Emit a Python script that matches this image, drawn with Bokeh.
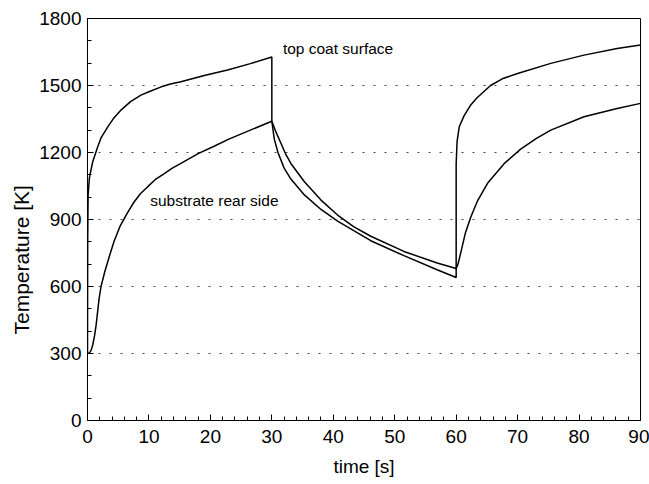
from bokeh.plotting import figure
from bokeh.models import Range1d, SingleIntervalTicker, Label, Title
from bokeh.embed import file_html
from bokeh.resources import INLINE

# top coat surface temperature [K] vs time [s]
top_t = [0, 0.03, 0.1, 0.3, 0.85, 1.65, 2.2, 3.3, 4.3, 5.45, 7, 8.7, 10, 12, 13.5, 15.2, 19, 22.8, 26.5, 30.0,
         30.0, 30.4, 31, 32, 33, 35.3, 38, 40.7, 46.1, 51.5, 56.9, 60.0,
         60.0, 60.15, 60.5, 61.3, 62.3, 63.4, 65.6, 67.5, 70, 75.4, 80.8, 86.2, 90]
top_T = [300, 800, 1010, 1085, 1159, 1225, 1265, 1315, 1355, 1390, 1428, 1457, 1472, 1494, 1507, 1517, 1545, 1569, 1598, 1628,
         1340, 1260, 1200, 1130, 1085, 1010, 945, 893, 805, 738, 675, 640,
         1150, 1250, 1315, 1365, 1410, 1445, 1500, 1530, 1554, 1599, 1636, 1666, 1681]

# substrate rear side temperature [K] vs time [s]
sub_t = [0, 0.3, 0.6, 0.85, 1.15, 1.4, 1.7, 1.9, 2.2, 2.8, 3.5, 4.3, 5.3, 6.5, 7.5, 8.6, 9.8, 11, 12.5, 13.8, 15.2,
         18, 20.6, 23, 26.5, 30.0,
         30.7, 31.5, 32.3, 33.1, 35.3, 38, 40.7, 43.3, 46.1, 51.5, 56.9, 60.0,
         60.3, 60.85, 61.5, 62.4, 63.5, 65.1, 67.8, 70.5, 73, 75.4, 80.8, 86.2, 90]
sub_T = [300, 302, 315, 338, 380, 427, 500, 548, 600, 665, 730, 800, 870, 930, 975, 1015, 1047, 1078, 1105, 1130, 1151,
         1195, 1228, 1260, 1300, 1340,
         1290, 1240, 1190, 1151, 1069, 987, 920, 868, 825, 757, 705, 681,
         700, 763, 840, 912, 985, 1062, 1150, 1215, 1262, 1300, 1360, 1397, 1420]

x_label = "time [s]"
y_label = "Temperature [K]"
top_label = "top coat surface"
sub_label = "substrate rear side"

FONT = "Liberation Sans"

p = figure(width=649, height=484, output_backend="svg", toolbar_location=None,
           x_range=Range1d(0, 90), y_range=Range1d(0, 1800),
           min_border_left=87, min_border_right=9, min_border_top=18, min_border_bottom=64)
p.background_fill_color = "white"
p.border_fill_color = "white"
p.outline_line_color = "black"
p.outline_line_width = 1

p.line(top_t, top_T, line_color="black", line_width=1.5)
p.line(sub_t, sub_T, line_color="black", line_width=1.5)

p.xaxis.ticker = SingleIntervalTicker(interval=10, num_minor_ticks=5)
p.yaxis.ticker = SingleIntervalTicker(interval=300, num_minor_ticks=3)

for ax in (p.xaxis[0], p.yaxis[0]):
    ax.major_tick_in = 6
    ax.major_tick_out = 0
    ax.minor_tick_in = 4
    ax.minor_tick_out = 0
    ax.axis_line_color = "black"
    ax.major_tick_line_color = "black"
    ax.minor_tick_line_color = "black"
    ax.major_label_text_font = FONT
    ax.major_label_text_font_size = "19px"
    ax.major_label_text_color = "black"

p.xaxis.major_label_standoff = 9
p.yaxis.major_label_standoff = 6
p.xaxis.axis_label = x_label
p.xaxis.axis_label_text_font = FONT
p.xaxis.axis_label_text_font_size = "19px"
p.xaxis.axis_label_text_font_style = "normal"
p.xaxis.axis_label_text_color = "black"
p.xaxis.axis_label_standoff = 10

p.xgrid.grid_line_color = None
p.ygrid.grid_line_color = "#444444"
p.ygrid.grid_line_dash = "2 9"
p.ygrid.grid_line_width = 1

# y-axis title, starting above the frame bottom as in the reference
p.add_layout(Title(text=y_label, align="left", offset=86, standoff=8,
                   text_font=FONT, text_font_size="21px", text_font_style="normal",
                   text_color="black"), "left")

p.add_layout(Label(x=31.8, y=1667, text=top_label, text_align="left", text_baseline="middle",
                   text_font=FONT, text_font_size="15.5px", text_color="black"))
p.add_layout(Label(x=10.2, y=984, text=sub_label, text_align="left", text_baseline="middle",
                   text_font=FONT, text_font_size="15.5px", text_color="black"))

open("out.html", "w").write(file_html(p, INLINE))
